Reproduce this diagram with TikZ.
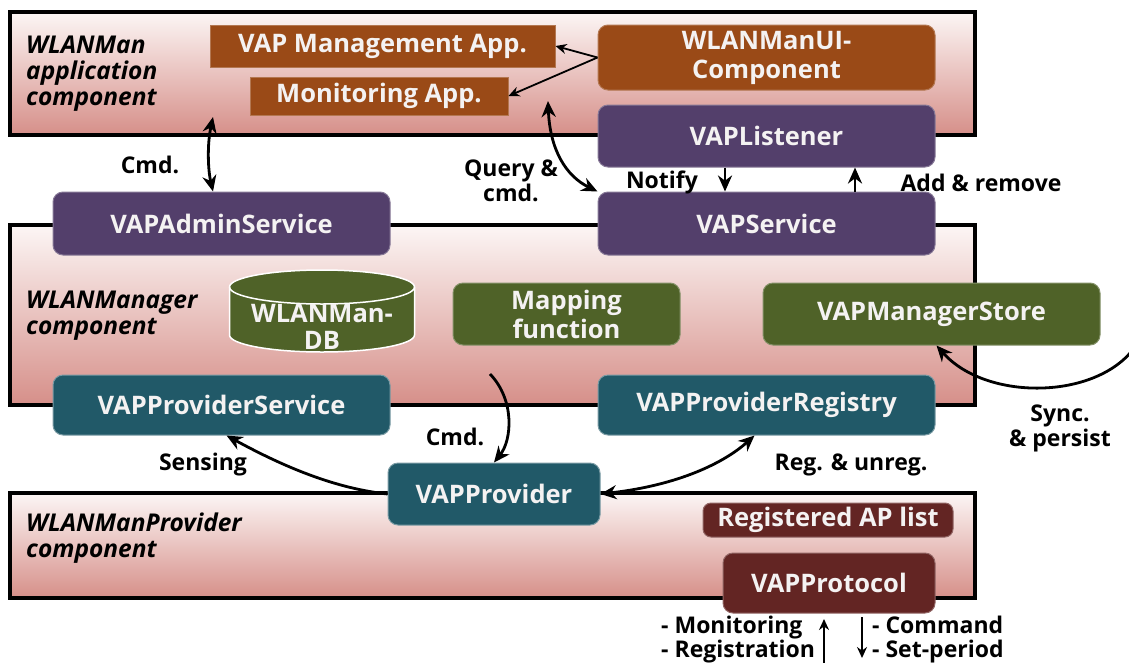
\documentclass[tikz,border=0pt]{standalone}
\usepackage{fontspec}
\setmainfont{Open Sans}
\usetikzlibrary{arrows.meta}
\definecolor{appbrown}{HTML}{9A4A17}
\definecolor{svcpurple}{HTML}{533F6B}
\definecolor{mgrgreen}{HTML}{4F6228}
\definecolor{provteal}{HTML}{215968}
\definecolor{protred}{HTML}{632523}
\definecolor{paneltop}{HTML}{FCF6F5}
\definecolor{panelbot}{HTML}{D68F89}
\definecolor{boxtext}{HTML}{F4F2F2}

\begin{document}
\begin{tikzpicture}[x=1pt,y=-1pt,
  panel/.style={draw=black,line width=4pt,top color=paneltop,bottom color=panelbot},
  blk/.style={rounded corners=10pt,text=boxtext,align=center,inner sep=0pt,line width=1pt,
    font=\bfseries\fontsize{25.5}{29}\selectfont,minimum width=337pt,minimum height=60pt},
  app/.style={blk,rounded corners=0pt,fill=appbrown,draw=appbrown!75!white},
  uibox/.style={blk,fill=appbrown,draw=appbrown!75!white},
  svc/.style={blk,fill=svcpurple,draw=svcpurple!70!white},
  mgr/.style={blk,fill=mgrgreen,draw=mgrgreen!70!white},
  prov/.style={blk,fill=provteal,draw=provteal!60!white},
  prot/.style={blk,fill=protred,draw=protred!70!white},
  grp/.style={font=\bfseries\itshape\fontsize{24.5}{26}\selectfont,anchor=west,align=left,inner sep=0pt},
  lbl/.style={font=\bfseries\fontsize{23}{25}\selectfont,align=center,inner sep=0pt},
  note/.style={font=\bfseries\fontsize{23}{24}\selectfont,align=left,inner sep=0pt,anchor=west},
  link/.style={line width=2.8pt,-{Stealth[length=16pt,width=14pt]}},
  dbl/.style={line width=2.8pt,{Stealth[length=16pt,width=14pt]}-{Stealth[length=16pt,width=14pt]}},
  fine/.style={line width=1.8pt,-{Stealth[length=11pt,width=10pt]}},
]
\useasboundingbox (0,0) rectangle (1129,662);
\fill[white] (0,0) rectangle (1129,662);

% component panels
\path[panel] (10,12) rectangle (975,135);
\path[panel] (10,225) rectangle (975,405);
\path[panel] (10,493) rectangle (975,598);

\node[grp] (gapp) at (26,74) {WLANMan\\application\\component};
\node[grp] (gmgr) at (26,316) {WLANManager\\component};
\node[grp] (gprov) at (26,538) {WLANManProvider\\component};

% application layer
\node[app,minimum width=345pt,minimum height=42pt] (mgmt) at (382.5,46) {VAP Management App.};
\node[app,minimum width=258pt,minimum height=38pt] (mon) at (379,96) {Monitoring App.};
\node[uibox,minimum height=65pt] (ui) at (766.5,57.5) {WLANManUI-\\Component};
\node[svc,minimum height=62pt] (listener) at (766.5,136) {VAPListener};
\node[svc,minimum height=63pt] (vapsvc) at (766.5,223.5) {VAPService};
\node[svc,minimum height=63pt] (admin) at (221.5,223.5) {VAPAdminService};

% manager layer
\path[fill=mgrgreen,draw=white,line width=1.5pt]
  (229.5,287) -- (229.5,335) arc[start angle=180,end angle=360,x radius=92.5pt,y radius=17pt]
  -- (414.5,287) arc[start angle=0,end angle=180,x radius=92.5pt,y radius=17pt] -- cycle;
\draw[white,line width=1.5pt] (229.5,287) arc[start angle=180,end angle=360,x radius=92.5pt,y radius=17pt];
\node[lbl,text=boxtext,font=\bfseries\fontsize{25.5}{27}\selectfont] (db) at (322,327) {WLANMan-\\DB};
\node[mgr,minimum width=227pt,minimum height=62pt] (mapfn) at (566.5,314) {Mapping\\function};
\node[mgr,minimum height=62pt] (store) at (931.5,314) {VAPManagerStore};
\node[prov] (provsvc) at (221.5,405) {VAPProviderService};
\node[prov] (registry) at (766.5,405) {VAPProviderRegistry};

% provider layer
\node[prov,minimum width=212pt,minimum height=62pt] (provider) at (494,494) {VAPProvider};
\node[prot,minimum width=250pt,minimum height=34pt,rounded corners=8pt] (aplist) at (828,520) {Registered AP list};
\node[prot,minimum width=212pt,minimum height=60pt] (protocol) at (829,583) {VAPProtocol};

% connectors
\draw[fine] (ui.west) -- (mgmt.east);
\draw[fine] (ui.west) -- (mon.east);

\coordinate (cmdtop) at (213,117);
\draw[dbl] (cmdtop) .. controls (207,145) and (208,170) .. (admin.north -| cmdtop);
\node[lbl] (lcmd) at (150,165) {Cmd.};

\coordinate (qtop) at (548,101);
\draw[dbl] (qtop) .. controls (550,150) and (566,176) .. (vapsvc.north west);
\node[lbl] (lquery) at (511,181) {Query \&\\cmd.};

\draw[link] ([xshift=-41.5pt]listener.south) -- ([xshift=-41.5pt]vapsvc.north);
\node[lbl] (lnotify) at (662,182) {Notify};
\draw[link] ([xshift=88.5pt]vapsvc.north) -- ([xshift=88.5pt]listener.south);
\node[lbl] (ladd) at (981,183) {Add \& remove};

\coordinate (cmdsrc) at (490,374);
\draw[link] (cmdsrc) .. controls (515,400) and (512,440) .. (provider.north);
\node[lbl] (lcmd2) at (455,437) {Cmd.};

\draw[link] (provider.west) .. controls (330,488) and (275,462) .. ([xshift=5pt]provsvc.south);
\node[lbl] (lsense) at (203,465) {Sensing};

\draw[dbl] (provider.east) .. controls (680,485) and (725,462) .. ([xshift=-12pt]registry.south);
\node[lbl] (lreg) at (851,465) {Reg. \& unreg.};

\coordinate (syncsrc) at (1131,352);
\draw[link] (syncsrc) .. controls (1090,400) and (985,400) .. ([xshift=5pt]store.south);
\node[lbl] (lsync) at (1060,428) {Sync.\\\& persist};

% protocol messages
\coordinate (upfrom) at (824,664);
\coordinate (upto) at (824,619);
\draw[fine] (upfrom) -- (upto);
\coordinate (dnfrom) at (862,617);
\coordinate (dnto) at (862,658);
\draw[fine] (dnfrom) -- (dnto);
\node[note] (lup) at (661,640) {- Monitoring\\- Registration};
\node[note] (ldn) at (872,640) {- Command\\- Set-period};
\end{tikzpicture}
\end{document}
